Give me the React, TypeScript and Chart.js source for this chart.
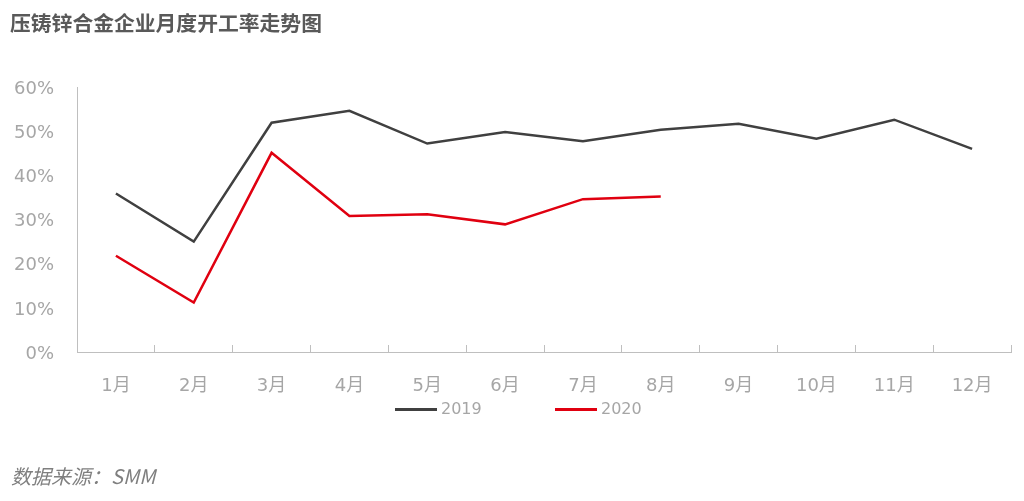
import { useEffect, useRef } from "react";
import { Chart, registerables } from "chart.js";

Chart.register(...registerables);

// data
const months = ["1月", "2月", "3月", "4月", "5月", "6月", "7月", "8月", "9月", "10月", "11月", "12月"];
const rate2019 = [35.9, 25.0, 51.9, 54.6, 47.2, 49.8, 47.7, 50.3, 51.7, 48.3, 52.6, 46.0];
const rate2020 = [21.8, 11.2, 45.1, 30.8, 31.2, 28.9, 34.6, 35.2];
const seriesNames = ["2019", "2020"];
const seriesColors = ["#404040", "#e00010"];
const yMin = 0;
const yMax = 60;
const yStep = 10;

const titleText = "压铸锌合金企业月度开工率走势图";
const sourceText = "数据来源：SMM";

const tickFont = "'DejaVu Sans', 'Noto Sans CJK SC', sans-serif";
const labelGray = "#a6a6a6";
const axisGray = "#bfbfbf";

export default function App() {
  const canvasRef = useRef<HTMLCanvasElement | null>(null);
  const chartRef = useRef<Chart | null>(null);

  useEffect(() => {
    const canvas = canvasRef.current;
    if (!canvas) return;
    chartRef.current?.destroy();

    chartRef.current = new Chart(canvas, {
      type: "line",
      data: {
        labels: months,
        datasets: [
          {
            label: seriesNames[0],
            data: rate2019,
            borderColor: seriesColors[0],
            backgroundColor: seriesColors[0],
            borderWidth: 2.5,
            pointRadius: 0,
            tension: 0,
          },
          {
            label: seriesNames[1],
            data: rate2020,
            borderColor: seriesColors[1],
            backgroundColor: seriesColors[1],
            borderWidth: 2.5,
            pointRadius: 0,
            tension: 0,
          },
        ],
      },
      options: {
        animation: false,
        responsive: true,
        maintainAspectRatio: false,
        layout: { padding: { top: 87, left: 0, right: 11, bottom: 99 } },
        plugins: {
          legend: { display: false },
          tooltip: { enabled: false },
        },
        scales: {
          x: {
            offset: true,
            afterFit: (scale) => {
              scale.height = 50;
            },
            grid: {
              display: true,
              offset: true,
              drawOnChartArea: false,
              drawTicks: true,
              tickLength: -7,
              color: axisGray,
              lineWidth: 1,
            },
            border: { display: true, color: axisGray, width: 1 },
            ticks: {
              color: labelGray,
              padding: 31,
              maxRotation: 0,
              autoSkip: false,
              font: { family: tickFont, size: 18 },
            },
          },
          y: {
            min: yMin,
            max: yMax,
            afterFit: (scale) => {
              scale.width = 77;
            },
            grid: { display: false, drawTicks: false },
            border: { display: true, color: axisGray, width: 1 },
            ticks: {
              stepSize: yStep,
              color: labelGray,
              padding: 23,
              labelOffset: 2,
              font: { family: tickFont, size: 18 },
              callback: (v) => `${v}%`,
            },
          },
        },
      },
    });

    return () => {
      chartRef.current?.destroy();
      chartRef.current = null;
    };
  }, []);

  return (
    <div
      style={{
        position: "absolute",
        left: 0,
        top: 0,
        width: 1024,
        height: 501,
        background: "#ffffff",
        overflow: "hidden",
      }}
    >
      <div style={{ position: "absolute", left: 0, top: 0, width: 1024, height: 501 }}>
        <canvas ref={canvasRef}></canvas>
      </div>
      <div
        style={{
          position: "absolute",
          left: 10,
          top: 12,
          fontFamily: "'Noto Sans CJK SC', sans-serif",
          fontWeight: 700,
          fontSize: 20.8,
          lineHeight: "21px",
          color: "#595959",
          whiteSpace: "nowrap",
        }}
      >
        {titleText}
      </div>
      {/* legend */}
      {seriesNames.map((name, i) => (
        <div
          key={name}
          style={{
            position: "absolute",
            left: i === 0 ? 395 : 555,
            top: 400,
            height: 18,
            display: "flex",
            alignItems: "center",
            whiteSpace: "nowrap",
          }}
        >
          <span
            style={{
              display: "inline-block",
              width: 42,
              height: 3,
              background: seriesColors[i],
              marginRight: 4,
            }}
          ></span>
          <span
            style={{
              fontFamily: tickFont,
              fontSize: 16,
              lineHeight: "18px",
              color: labelGray,
            }}
          >
            {name}
          </span>
        </div>
      ))}
      <div
        style={{
          position: "absolute",
          left: 11,
          top: 466,
          fontFamily: "'Noto Sans CJK SC', sans-serif",
          fontStyle: "italic",
          fontSize: 20,
          lineHeight: "20px",
          color: "#7f7f7f",
          whiteSpace: "nowrap",
        }}
      >
        {sourceText}
      </div>
    </div>
  );
}
